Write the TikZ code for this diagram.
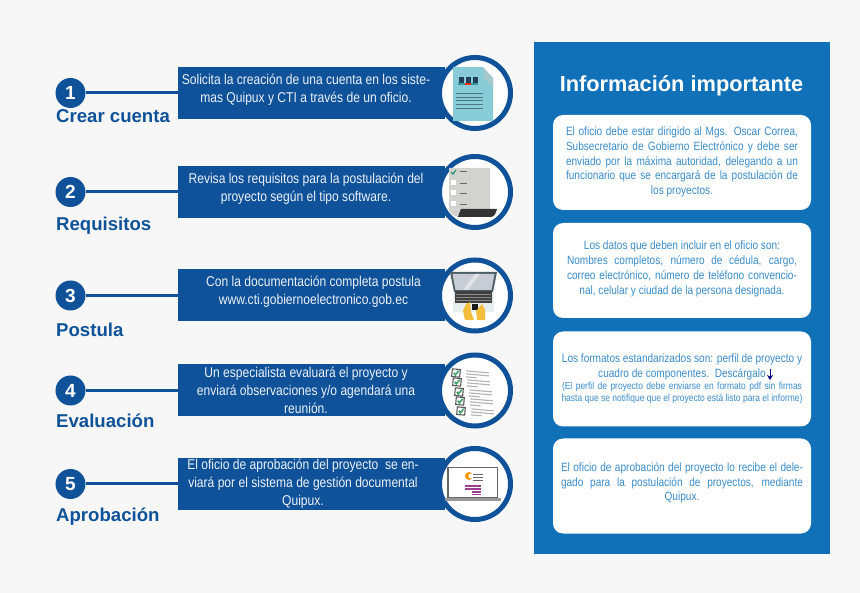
\documentclass[tikz,border=0pt]{standalone}
\usepackage{fontspec}
\usepackage{amsmath}
\setmainfont{Liberation Sans}
\newfontfamily\narrowfont[FakeStretch=0.85]{Liberation Sans}
\newfontfamily\infofont[FakeStretch=0.84]{Liberation Sans}
\usetikzlibrary{arrows.meta}
\definecolor{barblue}{HTML}{0F5299}
\definecolor{panelblue}{HTML}{1070B8}
\definecolor{infoblue}{HTML}{3A8CCB}
\definecolor{pagegray}{HTML}{F7F7F7}
\definecolor{docteal}{HTML}{88CCD8}
\definecolor{docfold}{HTML}{A5C8CC}
\definecolor{docdark}{HTML}{1F4058}
\definecolor{docline}{HTML}{4F7680}
\definecolor{listgray}{HTML}{D2D2CE}
\definecolor{handgold}{HTML}{F3BE3C}
\definecolor{lapframe}{HTML}{4A5E68}
\definecolor{lapscreen}{HTML}{C8CCD4}
\definecolor{lapbase}{HTML}{E6EEF0}
\definecolor{checkgreen}{HTML}{3FA268}
\definecolor{quipurple}{HTML}{99408F}
\newcommand{\jline}[2]{\makebox[#1pt][s]{#2}}
\begin{document}
\begin{tikzpicture}[x=1pt,y=-1pt,
    stepbar/.style ={fill=barblue, minimum width=267pt, minimum height=52pt, inner sep=0pt},
    stepring/.style ={circle, draw=barblue, fill=white, line width=5pt, minimum size=71pt, inner sep=0pt},
    stepnum/.style ={circle, fill=barblue, text=white, minimum size=30pt, inner sep=0pt, font=\fontsize{19}{19}\selectfont\bfseries},
    steplabel/.style ={anchor=base west, text=barblue, inner sep=0pt, font=\fontsize{18.6}{20}\selectfont\bfseries},
    steptext/.style ={text=white!92!barblue, align=center, inner sep=0pt, font=\narrowfont\fontsize{14.2}{18}\selectfont},
    infobox/.style ={fill=white, rounded corners=10pt, minimum width=258pt, minimum height=95pt, inner sep=0pt},
    infotext/.style ={text=infoblue, align=center, inner sep=0pt, font=\infofont\fontsize{12}{14.8}\selectfont},
    steplink/.style ={draw=barblue, line width=3pt}]
   \fill[pagegray] (0,0) rectangle (860,593);
   \useasboundingbox (0,0) rectangle (860,593);
   % left column
   \foreach \n/\y in {1/93, 2/192, 3/295.5, 4/390.5, 5/484}{
     \node[stepbar] (bar\n) at (311.5,\y) {};
     \node[stepring] (ring\n) at (475,\y) {};
     \node[stepnum] (num\n) at (70.5,\y) {\n};
     \draw[steplink] (num\n) -- (bar\n);
   }
   \node[steplabel] (lab1) at (56,122.5) {Crear cuenta};
   \node[steplabel] (lab2) at (56,231) {Requisitos};
   \node[steplabel] (lab3) at (56,336.5) {Postula};
   \node[steplabel] (lab4) at (56,427.5) {Evaluación};
   \node[steplabel] (lab5) at (56,521.5) {Aprobación};
   \node[steptext] (txt1) at (306,90) {Solicita la creación de una cuenta en los siste-\\mas Quipux y CTI a través de un oficio.};
   \node[steptext] (txt2) at (306,189) {Revisa los requisitos para la postulación del\\proyecto según el tipo software.};
   \node[steptext] (txt3) at (313.5,292) {Con la documentación completa postula\\www.cti.gobiernoelectronico.gob.ec};
   \node[steptext] (txt4) at (306,390) {Un especialista evaluará el proyecto y\\enviará observaciones y/o agendará una\\reunión.};
   \node[steptext] (txt5) at (303,483.5) {El oficio de aprobación del proyecto\ \ se en-\\viará por el sistema de gestión documental\\Quipux.};
   % icon 1, document
   \fill[docteal] (453,67) -- (483,67) -- (493,78) -- (493,121) -- (453,121) -- cycle;
   \fill[white] (483,67) -- (493,67) -- (493,78) -- cycle;
   \fill[docfold] (483,67) -- (493,78) -- (493,87) -- (484,78) -- cycle;
   \foreach \x in {459,466,472.5}{
     \fill[docdark] (\x,77) rectangle (\x+5,83);
   }
   \fill[teal!80!white] (458,83) rectangle (478,85);
   \fill[red!70!orange] (465,83) rectangle (471,85);
   \foreach \y in {93,97,100.5,104,108}{
     \draw[docline, line width=0.9pt] (456,\y) -- (483,\y);
   }
   % icon 2, list
   \fill[listgray] (449,168) -- (490,168) -- (490,209) -- (461,209) .. controls (459,212) and (459,215) .. (458,217) .. controls (453,216) and (449,213) .. (449,208) -- cycle;
   \fill[black!80] (461,209) -- (497,209) .. controls (496,213) and (494,217) .. (491,217) -- (458,217) .. controls (459,215) and (459,212) .. (461,209) -- cycle;
   \foreach \y in {183,193,204}{
     \fill[white] (451,\y-2.5) rectangle (456,\y+2.5);
     \draw[black!60, line width=1pt] (460,\y+1) -- (467,\y+1);
   }
   \draw[black!60, line width=1pt] (460,172) -- (467,172);
   \draw[checkgreen!70!teal, line width=1.2pt] (451,172) -- (453,174) -- (456,170);
   % icon 3, laptop
   \fill[lapbase] (453,292) rectangle (494,312);
   \fill[lapframe] (450,272) -- (497,272) -- (493,292) -- (454,292) -- cycle;
   \fill[lapscreen] (452.5,274) -- (494.5,274) -- (491.5,290) -- (455.5,290) -- cycle;
   \fill[lapscreen!55!white] (463,290) -- (475,274) -- (480,274) -- (468,290) -- cycle;
   \fill[black!75] (455,291) rectangle (492,303);
   \foreach \y in {294,297,300}{
     \draw[black!45, line width=0.4pt] (456,\y) -- (491,\y);
   }
   \fill[black!90] (472,304) rectangle (478,310);
   \fill[handgold] (466,304) -- (470,302) -- (471,312) -- (474,320) -- (465,320) -- (463,311) -- cycle;
   \fill[handgold] (482,304) -- (485,310) -- (485,320) -- (477,320) -- (476,311) -- cycle;
   % icon 4, checklist
   \foreach \x/\y in {456/373, 457/382, 459/392, 460/401, 461/411}{
     \begin{scope}[shift={(\x,\y)}, rotate=-5]
       \fill[white] (-4,-3.8) rectangle (4,3.8);
       \draw[black!65, line width=1.1pt] (-4,-3.8) rectangle (4,3.8);
       \draw[checkgreen, line width=1.6pt] (-2.2,0) -- (-0.5,2) -- (2.5,-2.5);
       \draw[black!30, line width=1.1pt] (10,-3) -- (33,-3);
       \draw[black!30, line width=1.1pt] (10,0) -- (33,0);
       \draw[black!30, line width=1.1pt] (10,3) -- (21,3);
     \end{scope}
   }
   % icon 5, monitor
   \fill[black!60] (447,467) rectangle (498,498);
   \fill[white] (448.5,468.5) rectangle (496.5,497);
   \fill[black!40] (445,498) rectangle (501,501);
   \fill[orange!80!yellow] (469,476) circle (4pt);
   \fill[white] (471,476) circle (2.5pt);
   \foreach \y in {474,477,480}{
     \draw[black!60, line width=0.8pt] (473,\y) -- (483,\y);
   }
   \foreach \y in {486,489}{
     \draw[quipurple, line width=2pt] (465,\y) -- (481,\y);
   }
   \foreach \y in {492,494.5}{
     \draw[quipurple, line width=1.6pt] (472,\y) -- (481,\y);
   }
   % right column
   \fill[panelblue] (534,42) rectangle (830,554);
   \node[text=white, inner sep=0pt, font=\fontsize{21.8}{22}\selectfont\bfseries] (title) at (681.5,86) {Información importante};
   \node[infobox] (box1) at (682,162.5) {};
   \node[infobox] (box2) at (682,270.5) {};
   \node[infobox] (box3) at (682,379) {};
   \node[infobox] (box4) at (682,486) {};
   \node[infotext] (info1) at (682,162) {\jline{232}{El oficio debe estar dirigido al Mgs. Oscar Correa,}\\\jline{232}{Subsecretario de Gobierno Electrónico y debe ser}\\\jline{232}{enviado por la máxima autoridad, delegando a un}\\\jline{232}{funcionario que se encargará de la postulación de}\\los proyectos.};
   \node[infotext] (info2) at (682,269) {Los datos que deben incluir en el oficio son:\\\jline{230}{Nombres completos, número de cédula, cargo,}\\\jline{230}{correo electrónico, número de teléfono convencio-}\\nal, celular y ciudad de la persona designada.};
   \node[infotext] (info3a) at (682,367) {Los formatos estandarizados son: perfil de proyecto y\\cuadro de componentes.\ \ Descárgalo\hspace{9pt}};
   \node[infotext, font=\infofont\fontsize{10.1}{11.8}\selectfont] (info3b) at (682,393) {\jline{240}{(El perfil de proyecto debe enviarse en formato pdf sin firmas}\\hasta que se notifique que el proyecto está listo para el informe)};
   \node[infotext] (info4) at (682,483) {\jline{242}{El oficio de aprobación del proyecto lo recibe el dele-}\\\jline{242}{gado para la postulación de proyectos, mediante}\\Quipux.};
   \coordinate (dlstart) at (770,369);
   \coordinate (dlend) at (770,380);
   \draw[-{Stealth[length=5pt,width=6pt]}, blue!50!black, line width=1pt] (dlstart) -- (dlend);
 \end{tikzpicture}
\end{document}
